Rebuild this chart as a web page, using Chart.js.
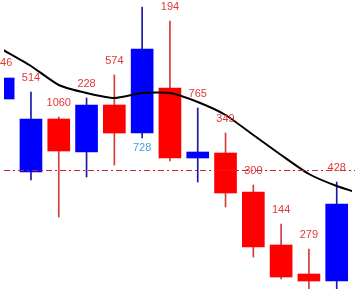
<!DOCTYPE html>
<html>
<head>
<meta charset="utf-8">
<script src="https://cdn.jsdelivr.net/npm/chart.js@4"></script>
<style>
    html, body { margin: 0; padding: 0; background: #fff; }
    #wrap { width: 358px; height: 289px; position: relative; }
</style>
</head>
<body>
<div id="wrap"><canvas id="candleChart"></canvas></div>
<script>
// candle values (arbitrary price units)
const opens  = [39.0, 31.7, 37.0, 33.7, 38.4, 35.6, 40.1, 33.1, 33.6, 29.7, 24.4, 21.5, 20.8];
const closes = [41.1, 37.0, 33.8, 38.4, 35.6, 44.0, 33.1, 33.7, 29.6, 24.2, 21.2, 20.8, 28.5];
const highs  = [41.2, 39.7, 37.2, 39.1, 41.4, 48.2, 46.8, 38.1, 35.6, 30.4, 26.5, 24.0, 30.7];
const lows   = [38.4, 30.9, 27.2, 31.2, 32.4, 35.1, 32.8, 30.7, 28.2, 23.2, 21.0, 19.4, 19.4];
// moving average, one more point than candles (next bar is off the right edge)
const maValues = [43.9, 42.3, 40.4, 39.6, 39.1, 39.6, 39.6, 38.7, 37.4, 35.4, 33.4, 31.5, 30.3, 29.4];
const topLabels = ["346", "514", "1060", "228", "574", null, "194", "765", "349", "300", "144", "279", "428"];
const bottomLabels = [null, null, null, null, null, "728", null, null, null, null, null, null, null];
const refLevel = 31.9;

const upColor = "#0000ff";
const downColor = "#ff0000";
const upWick = "#1a1aa8";
const downWick = "#d63a3a";

const isUp = opens.map((o, i) => closes[i] >= o);

const labelPlugin = {
    id: "candleLabels",
    afterDatasetsDraw(chart) {
        const { ctx, chartArea, scales } = chart;
        const yRef = Math.round(scales.y.getPixelForValue(refLevel)) + 0.5;

        ctx.save();
        ctx.strokeStyle = "#c42a2a";
        ctx.lineWidth = 1;
        ctx.setLineDash([6, 3, 2, 3]);
        ctx.beginPath();
        ctx.moveTo(chartArea.left, yRef);
        ctx.lineTo(chart.width - 3, yRef);
        ctx.stroke();
        ctx.setLineDash([]);

        ctx.font = "11px 'Liberation Sans', Arial, sans-serif";
        ctx.textAlign = "center";
        ctx.textBaseline = "middle";
        for (let i = 0; i < opens.length; i += 1) {
            const x = scales.x.getPixelForValue(i);
            if (topLabels[i]) {
                ctx.fillStyle = "#e0383a";
                ctx.fillText(topLabels[i], x, scales.y.getPixelForValue(highs[i]) - 14.5);
            }
            if (bottomLabels[i]) {
                ctx.fillStyle = "#4a9ee2";
                ctx.fillText(bottomLabels[i], x, scales.y.getPixelForValue(lows[i]) + 10);
            }
        }
        ctx.restore();
    },
};

new Chart(document.getElementById("candleChart"), {
    type: "bar",
    data: {
        datasets: [
            {
                type: "line",
                label: "MA",
                data: maValues.map((v, i) => ({ x: i, y: v })),
                borderColor: "#000",
                borderWidth: 2,
                pointRadius: 0,
                tension: 0.2,
                order: 0,
            },
            {
                label: "Body",
                data: opens.map((o, i) => ({ x: i, y: [o, closes[i]] })),
                backgroundColor: isUp.map((u) => (u ? upColor : downColor)),
                borderWidth: 0,
                barThickness: 22,
                grouped: false,
                order: 1,
            },
            {
                label: "Wick",
                data: lows.map((l, i) => ({ x: i, y: [l, highs[i]] })),
                backgroundColor: isUp.map((u) => (u ? upWick : downWick)),
                borderWidth: 0,
                barThickness: 1,
                grouped: false,
                order: 2,
            },
        ],
    },
    options: {
        responsive: true,
        maintainAspectRatio: false,
        animation: false,
        layout: { padding: { left: 4, right: 6, top: 0, bottom: 0 } },
        plugins: { legend: { display: false }, tooltip: { enabled: false } },
        scales: {
            x: { type: "linear", min: 0.03, max: 12.55, offset: false, display: false },
            y: { min: 20, max: 48.9, display: false },
        },
    },
    plugins: [labelPlugin],
});
</script>
</body>
</html>
